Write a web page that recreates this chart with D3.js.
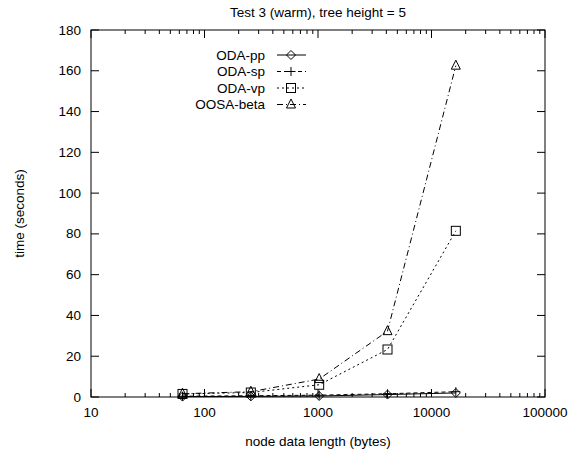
<!DOCTYPE html>
<html><head><meta charset="utf-8">
<script src="https://cdn.jsdelivr.net/npm/d3@7"></script>
<style>body{margin:0;background:#fff;} text{font-family:"Liberation Sans",Arial,sans-serif;}</style>
</head><body>
<svg id="c" width="583" height="460"></svg>
<script>
const xValues = [64, 256, 1024, 4096, 16384];
const seriesNames = ["ODA-pp", "ODA-sp", "ODA-vp", "OOSA-beta"];
const odaPP = [0.2, 0.3, 0.5, 1.2, 2.0];
const odaSP = [0.4, 0.6, 0.9, 1.6, 2.6];
const odaVP = [1.5, 2.2, 6.0, 23.3, 81.5];
const oosaBeta = [1.6, 2.6, 8.8, 32.3, 162.5];
const yTicks = [0, 20, 40, 60, 80, 100, 120, 140, 160, 180];
const xTicks = [10, 100, 1000, 10000, 100000];

const svg = d3.select("#c");
const L = 91, R = 545, T = 30, B = 397;
const FS = 13.5;
const x = d3.scaleLog().domain([10, 100000]).range([L, R]);
const y = d3.scaleLinear().domain([0, 180]).range([B, T]);

const g = svg.append("g");
yTicks.forEach(v => {
  g.append("line").attr("x1", L).attr("x2", L + 8).attr("y1", y(v)).attr("y2", y(v)).attr("stroke", "#000");
  g.append("line").attr("x1", R).attr("x2", R - 8).attr("y1", y(v)).attr("y2", y(v)).attr("stroke", "#000");
  g.append("text").attr("x", L - 10).attr("y", y(v) + 4.5).attr("text-anchor", "end").attr("font-size", FS).text(v);
});
const minor = [];
for (let d = 10; d < 100000; d *= 10) for (let k = 2; k <= 9; k++) minor.push(d * k);
minor.forEach(v => {
  g.append("line").attr("x1", x(v)).attr("x2", x(v)).attr("y1", B).attr("y2", B - 4).attr("stroke", "#000");
  g.append("line").attr("x1", x(v)).attr("x2", x(v)).attr("y1", T).attr("y2", T + 4).attr("stroke", "#000");
});
xTicks.forEach(v => {
  g.append("line").attr("x1", x(v)).attr("x2", x(v)).attr("y1", B).attr("y2", B - 8).attr("stroke", "#000");
  g.append("line").attr("x1", x(v)).attr("x2", x(v)).attr("y1", T).attr("y2", T + 8).attr("stroke", "#000");
  g.append("text").attr("x", x(v)).attr("y", B + 20).attr("text-anchor", "middle").attr("font-size", FS).text(v);
});
g.append("rect").attr("x", L).attr("y", T).attr("width", R - L).attr("height", B - T).attr("fill", "none").attr("stroke", "#000").attr("stroke-width", 1);

svg.append("text").attr("x", (L + R) / 2).attr("y", 17).attr("text-anchor", "middle").attr("font-size", FS).text("Test 3 (warm), tree height = 5");
svg.append("text").attr("x", (L + R) / 2).attr("y", 446).attr("text-anchor", "middle").attr("font-size", FS).text("node data length (bytes)");
svg.append("text").attr("transform", `translate(24,${(T + B) / 2}) rotate(-90)`).attr("text-anchor", "middle").attr("font-size", FS).text("time (seconds)");

const series = [
  {name: seriesNames[0], vals: odaPP, dash: null, marker: "diamond"},
  {name: seriesNames[1], vals: odaSP, dash: "4,3", marker: "plus"},
  {name: seriesNames[2], vals: odaVP, dash: "2,3", marker: "square"},
  {name: seriesNames[3], vals: oosaBeta, dash: "6,3,1,3", marker: "triangle"}
];
function drawMarker(sel, type, cx, cy) {
  const s = 4.5;
  if (type === "diamond") sel.append("path").attr("d", `M${cx},${cy - s}L${cx + s},${cy}L${cx},${cy + s}L${cx - s},${cy}Z`).attr("fill", "none").attr("stroke", "#000");
  if (type === "plus") sel.append("path").attr("d", `M${cx - s},${cy}H${cx + s}M${cx},${cy - s}V${cy + s}`).attr("stroke", "#000").attr("fill", "none");
  if (type === "square") sel.append("rect").attr("x", cx - s).attr("y", cy - s).attr("width", 2 * s).attr("height", 2 * s).attr("fill", "none").attr("stroke", "#000");
  if (type === "triangle") sel.append("path").attr("d", `M${cx},${cy - s - 1}L${cx + s},${cy + s - 1}L${cx - s},${cy + s - 1}Z`).attr("fill", "none").attr("stroke", "#000");
}
const line = d3.line().x((d, i) => x(xValues[i])).y(d => y(d));
series.forEach((s, si) => {
  svg.append("path").attr("d", line(s.vals)).attr("fill", "none").attr("stroke", "#000").attr("stroke-width", 1).attr("stroke-dasharray", s.dash);
  s.vals.forEach((v, i) => drawMarker(svg, s.marker, x(xValues[i]), y(v)));
  const ly = 55 + si * 16.5;
  svg.append("text").attr("x", 265).attr("y", ly + 4.5).attr("text-anchor", "end").attr("font-size", FS).text(s.name);
  svg.append("line").attr("x1", 277).attr("x2", 306).attr("y1", ly).attr("y2", ly).attr("stroke", "#000").attr("stroke-dasharray", s.dash);
  drawMarker(svg, s.marker, 291, ly);
});
</script>
</body></html>
